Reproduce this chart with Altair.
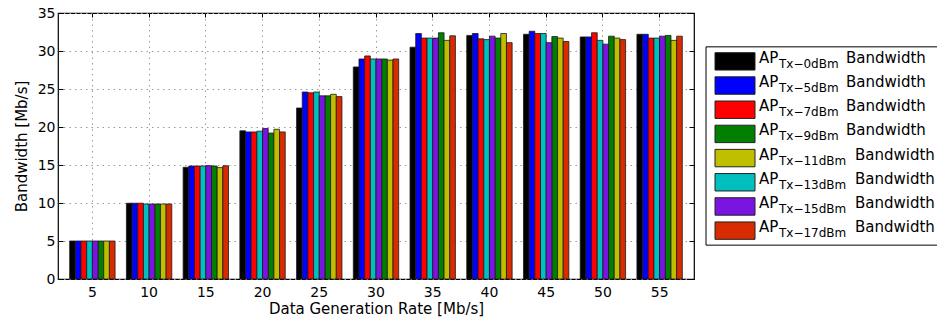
import altair as alt
import pandas as pd

# ---- data ----
rates = [5, 10, 15, 20, 25, 30, 35, 40, 45, 50, 55]
legend_order = ["0dBm", "5dBm", "7dBm", "9dBm", "11dBm", "13dBm", "15dBm", "17dBm"]
legend_colors = ["#000000", "#0000ff", "#ff0000", "#007f00", "#bfbf00", "#00bfbf", "#7a14e0", "#d92b00"]
bar_order = ["0dBm", "5dBm", "7dBm", "13dBm", "15dBm", "9dBm", "11dBm", "17dBm"]

bw_0dBm = [5.0, 9.97, 14.70, 19.50, 22.5, 27.9, 30.5, 32.05, 32.2, 31.85, 32.2]
bw_5dBm = [5.0, 9.97, 14.87, 19.35, 24.6, 28.95, 32.3, 32.3, 32.6, 31.85, 32.2]
bw_7dBm = [5.0, 9.97, 14.87, 19.35, 24.5, 29.35, 31.7, 31.6, 32.3, 32.4, 31.7]
bw_13dBm = [5.0, 9.87, 14.87, 19.45, 24.6, 28.95, 31.7, 31.5, 32.3, 31.4, 31.7]
bw_15dBm = [5.0, 9.87, 14.92, 19.8, 24.1, 28.95, 31.7, 31.95, 31.1, 30.9, 31.95]
bw_9dBm = [5.0, 9.87, 14.87, 19.2, 24.1, 28.95, 32.4, 31.7, 31.9, 31.95, 32.05]
bw_11dBm = [5.0, 9.87, 14.66, 19.7, 24.3, 28.8, 31.4, 32.3, 31.7, 31.7, 31.4]
bw_17dBm = [5.0, 9.87, 14.90, 19.35, 24.0, 28.95, 32.0, 31.1, 31.25, 31.5, 31.95]

y_ticks = [0, 5, 10, 15, 20, 25, 30, 35]

series_values = {
    "0dBm": bw_0dBm, "5dBm": bw_5dBm, "7dBm": bw_7dBm, "9dBm": bw_9dBm,
    "11dBm": bw_11dBm, "13dBm": bw_13dBm, "15dBm": bw_15dBm, "17dBm": bw_17dBm,
}

rows = []
for s, vals in series_values.items():
    for r, v in zip(rates, vals):
        rows.append({"rate": r, "series": s, "value": v})
df = pd.DataFrame(rows)

leg = pd.DataFrame({"series": legend_order, "row": list(range(len(legend_order)))})
leg["sub"] = ["Tx\u2212" + s for s in legend_order]
leg["top"] = leg["row"] - 0.36
leg["bot"] = leg["row"] + 0.36
box_df = pd.DataFrame({"t": [-0.6], "b": [7.6]})

FONT = "DejaVu Sans"
W, H = 636, 266

x_scale = alt.Scale(type="band", domain=rates, paddingInner=0.2, paddingOuter=0.206)
y_scale = alt.Scale(domain=[0, 35], nice=False, zero=True)
color_scale = alt.Scale(domain=legend_order, range=legend_colors)
GRID_DASH = [1.5, 4]
GRID_COLOR = "#9a9a9a"

bars = alt.Chart(df).mark_bar(stroke="#1a1a1a", strokeWidth=0.8).encode(
    x=alt.X("rate:O", scale=x_scale, axis=alt.Axis(
        title="Data Generation Rate [Mb/s]", labelAngle=0, ticks=False, domain=False,
        grid=True, gridDash=GRID_DASH, gridColor=GRID_COLOR, bandPosition=0.5,
        labelPadding=6, titlePadding=2)),
    xOffset=alt.XOffset("series:N", sort=bar_order, scale=alt.Scale(paddingInner=0, paddingOuter=0)),
    y=alt.Y("value:Q", scale=y_scale, axis=alt.Axis(
        values=y_ticks, title="Bandwidth [Mb/s]", offset=-5, tickSize=5, tickColor="black",
        domain=False, grid=True, gridDash=GRID_DASH, gridColor=GRID_COLOR,
        labelPadding=3, titlePadding=8)),
    color=alt.Color("series:N", scale=color_scale, legend=None),
)

ticks = alt.Chart(df).mark_point(opacity=0).encode(
    x=alt.X("rate:O", scale=x_scale, axis=alt.Axis(
        orient="top", labels=False, title=None, domain=False, grid=False,
        tickSize=4, offset=-4, tickColor="black", bandPosition=0.5)),
    y=alt.Y("value:Q", scale=y_scale, axis=alt.Axis(
        orient="right", values=y_ticks, labels=False, title=None, domain=False,
        grid=False, tickSize=5, offset=-5, tickColor="black")),
)

ly = alt.Scale(domain=[-2, 9], reverse=True, nice=False, zero=False)

box = alt.Chart(box_df).mark_rect(fill="white", stroke="black", strokeWidth=1).encode(
    x=alt.value(648), x2=alt.value(900),
    y=alt.Y("t:Q", scale=ly, axis=None), y2="b:Q",
)

swatches = alt.Chart(leg).mark_rect(stroke="#222", strokeWidth=1).encode(
    x=alt.value(657), x2=alt.value(697),
    y=alt.Y("top:Q", scale=ly, axis=None), y2="bot:Q",
    color=alt.Color("series:N", scale=color_scale, legend=None),
)

ap_text = alt.Chart(leg).mark_text(
    text="AP", align="left", baseline="alphabetic", font=FONT, fontSize=15, color="black", dy=1.5
).encode(x=alt.value(701), y=alt.Y("row:Q", scale=ly, axis=None))

sub_text = alt.Chart(leg).mark_text(
    align="left", baseline="alphabetic", font=FONT, fontSize=12, color="black", dy=6.5
).encode(x=alt.value(721), y=alt.Y("row:Q", scale=ly, axis=None), text="sub:N")

bw_text1 = alt.Chart(leg).transform_filter("length(datum.series) == 4").mark_text(
    text="Bandwidth", align="left", baseline="alphabetic", font=FONT, fontSize=15, color="black", dy=1.5
).encode(x=alt.value(788), y=alt.Y("row:Q", scale=ly, axis=None))

bw_text2 = alt.Chart(leg).transform_filter("length(datum.series) == 5").mark_text(
    text="Bandwidth", align="left", baseline="alphabetic", font=FONT, fontSize=15, color="black", dy=1.5
).encode(x=alt.value(797), y=alt.Y("row:Q", scale=ly, axis=None))

chart = alt.layer(
    bars, ticks, box, swatches, ap_text, sub_text, bw_text1, bw_text2
).resolve_scale(
    x="independent", y="independent"
).resolve_axis(
    x="independent", y="independent"
).properties(
    width=W, height=H,
    padding={"left": 58, "top": 13, "right": 243, "bottom": 41},
    autosize=alt.AutoSizeParams(type="none"),
    background="white",
).configure_view(
    stroke="black", strokeWidth=1.2
).configure_axis(
    labelFont=FONT, labelFontSize=14, labelColor="black",
    titleFont=FONT, titleFontSize=15, titleFontWeight="normal", titleColor="black",
)

chart.save("out.html", embed_options={"renderer": "svg", "actions": False})
